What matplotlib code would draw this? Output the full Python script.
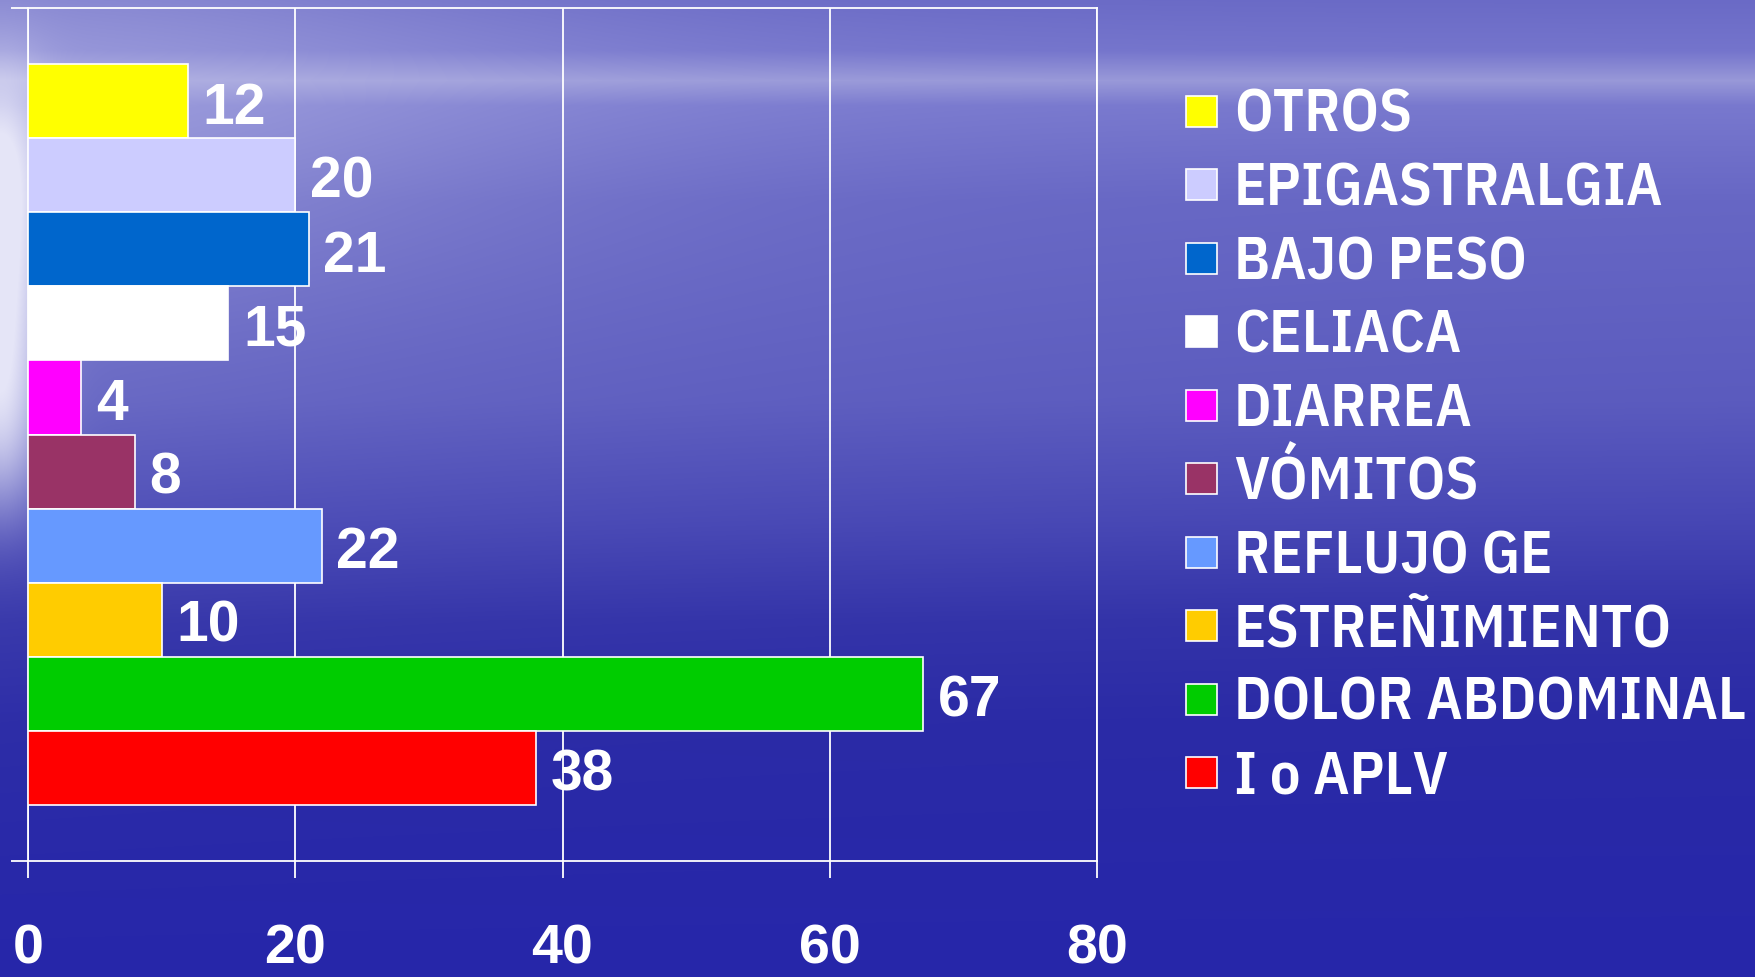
import numpy as np
import matplotlib
matplotlib.use("Agg")
import matplotlib.pyplot as plt
from matplotlib import font_manager
from matplotlib.font_manager import FontProperties
from matplotlib.textpath import TextPath
from matplotlib.patches import Rectangle

# ---------------- data ----------------
categories = ["OTROS", "EPIGASTRALGIA", "BAJO PESO", "CELIACA", "DIARREA",
              "VÓMITOS", "REFLUJO GE", "ESTREÑIMIENTO", "DOLOR ABDOMINAL", "I o APLV"]
values = [12, 20, 21, 15, 4, 8, 22, 10, 67, 38]
colors = ["#FFFF00", "#CCCCFF", "#0066CC", "#FFFFFF", "#FF00FF",
          "#993366", "#6699FF", "#FFCC00", "#00CC00", "#FF0000"]
xticks = [0, 20, 40, 60, 80]

W, H, DPI = 1755, 977, 100
PX2PT = 72.0 / DPI

# ---------------- fonts ----------------
avail = {f.name for f in font_manager.fontManager.ttflist}
num_fam = [f for f in ["Liberation Sans", "DejaVu Sans"] if f in avail]
plt.rcParams["font.family"] = num_fam


def wnum(w):
    if isinstance(w, (int, float)):
        return w
    return font_manager.weight_dict.get(str(w).lower(), 400)


# pick a bold upright font whose proportions match the legend lettering
target_ratio = 508.0 / 42.0
best = None
for fe in font_manager.fontManager.ttflist:
    try:
        if wnum(fe.weight) < 600 or fe.style != "normal":
            continue
        if "CJK" in fe.name or "Mono" in fe.name or "Serif" in fe.name:
            continue
        fp = FontProperties(fname=fe.fname, size=100)
        wd = TextPath((0, 0), "DOLOR ABDOMINAL", prop=fp).get_extents().width
        ch = TextPath((0, 0), "H", prop=fp).get_extents().height
        if ch <= 0:
            continue
        r = wd / ch
        score = abs(r - target_ratio)
        if best is None or score < best[0]:
            best = (score, fe.fname, r, ch / 100.0)
    except Exception:
        continue

if best is not None:
    leg_fp_base = FontProperties(fname=best[1])
    cap_ratio = best[3]
    ratio = best[2]
else:
    leg_fp_base = FontProperties(family=num_fam, weight="bold")
    cap_ratio, ratio = 0.716, 14.0

cap_px = min(42.0, 510.0 / ratio)
leg_size_pt = cap_px / cap_ratio * PX2PT
leg_fp = leg_fp_base.copy()
leg_fp.set_size(leg_size_pt)

NUM_SIZE = 41
num_cap_px = 0.716 * NUM_SIZE / PX2PT

fig = plt.figure(figsize=(W / DPI, H / DPI), dpi=DPI)

# ---------------- background (styling only) ----------------
yy, xx = np.mgrid[0:H, 0:W].astype(float)
kp_y = [0, 50, 80, 105, 200, 400, 520, 620, 720, 977]
kp_c = np.array([(106, 106, 198), (116, 116, 204), (152, 152, 216), (120, 120, 206),
                 (102, 102, 196), (90, 90, 190), (70, 70, 180), (50, 50, 168),
                 (42, 42, 166), (38, 38, 170)], float) / 255
ycol = np.stack([np.interp(np.arange(H), kp_y, kp_c[:, k]) for k in range(3)], axis=1)
img = np.repeat(ycol[:, None, :], W, axis=1)
tint = np.array([0.90, 0.90, 0.97])
w = 0.92 * np.exp(-(xx / 45.0) ** 2) * np.exp(-((yy - 290) / 210.0) ** 4)
w += 0.28 * np.exp(-(xx / 550.0) ** 2) * np.exp(-((yy - 90) / 200.0) ** 2)
w += 0.10 * np.exp(-(xx / 700.0)) * np.exp(-((yy - 350) / 300.0) ** 2)
w = np.clip(w, 0, 1)[..., None]
img = img * (1 - w) + tint * w
bg = fig.add_axes([0, 0, 1, 1], zorder=-10)
bg.imshow(img, aspect="auto", extent=[0, W, H, 0])
bg.set_axis_off()

# ---------------- axes ----------------
L, R, T, B = 28, 1097, 8, 861
ax = fig.add_axes([L / W, (H - B) / H, (R - L) / W, (B - T) / H])
ax.patch.set_alpha(0)

n = len(values)
pos = np.arange(n)
gap = 0.76
ax.barh(pos, values, height=1.0, color=colors, edgecolor="white", linewidth=1.2, zorder=3)
ax.set_xlim(0, 80)
ax.set_ylim(n - 0.5 + gap, -0.5 - gap)

tick_len_px = 17
ax.set_xticks(xticks)
ax.set_xticklabels([str(t) for t in xticks], fontsize=40, fontweight="bold", color="white")
baseline_y = 964
ax.tick_params(axis="x", direction="out", length=tick_len_px * PX2PT, width=1.3,
               color="white", pad=(baseline_y - B - tick_len_px) * PX2PT)
for lab in ax.get_xticklabels():
    lab.set_verticalalignment("baseline")
ax.set_yticks([n - 0.5 + gap, -0.5 - gap])
ax.set_yticklabels([])
ax.tick_params(axis="y", direction="out", length=tick_len_px * PX2PT, width=1.3, color="white")
for sp in ax.spines.values():
    sp.set_color("white")
    sp.set_linewidth(1.3)
ax.grid(axis="x", color="white", linewidth=1.3, zorder=1)
ax.set_axisbelow(True)

for i, v in enumerate(values):
    ax.annotate(str(v), xy=(v, i), xytext=(10.4, -(num_cap_px / 2 + 2) * PX2PT),
                textcoords="offset points", ha="left", va="baseline",
                fontsize=NUM_SIZE, fontweight="bold", color="white", zorder=5)

# ---------------- legend ----------------
y0, pitch = 111, 73.5
msz = 31
for i, (lab, c) in enumerate(zip(categories, colors)):
    yc = y0 + i * pitch
    fig.add_artist(Rectangle((1186 / W, (H - yc - msz / 2) / H), msz / W, msz / H,
                             transform=fig.transFigure, facecolor=c,
                             edgecolor="white", linewidth=1.2))
    fig.text(1234 / W, (H - yc - cap_px / 2) / H, lab, fontproperties=leg_fp,
             color="white", ha="left", va="baseline")

fig.savefig("out.png", dpi=DPI)
